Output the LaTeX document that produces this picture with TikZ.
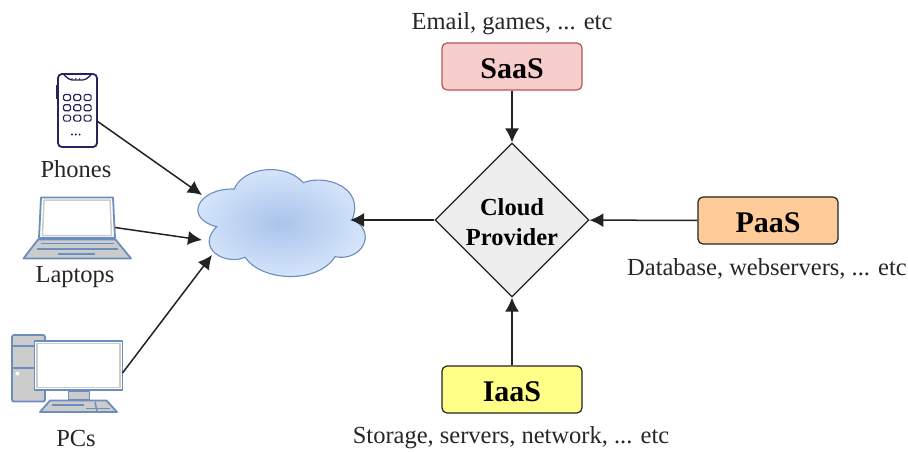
\documentclass[tikz,border=0pt]{standalone}
\usepackage{fontspec}
\setmainfont{Liberation Serif}
\usetikzlibrary{arrows.meta,shapes.geometric}
\definecolor{icoblue}{HTML}{6C8EBF}
\definecolor{icogray}{HTML}{CCCCCC}
\definecolor{phonecol}{HTML}{2E1F5E}
\definecolor{linecol}{HTML}{222222}
\definecolor{saasfill}{HTML}{F8CECC}
\definecolor{saasline}{HTML}{B85450}
\definecolor{paasfill}{HTML}{FFCC99}
\definecolor{iaasfill}{HTML}{FFFF88}
\definecolor{cloudin}{HTML}{A9C4EB}
\definecolor{cloudout}{HTML}{DAE8FC}
\tikzset{
  label/.style={font=\fontsize{24.5}{26}\selectfont,text=black!85,inner sep=0pt},
  service/.style={draw,rounded corners=5pt,line width=1.2pt,minimum width=140pt,minimum height=47pt,
    inner sep=0pt,text height=24pt,text depth=0pt,font=\fontsize{30}{32}\selectfont\bfseries},
  conn/.style={draw=linecol,line width=1.5pt,-{Latex[length=14pt,width=14pt]}},
  icon/.style={draw=icoblue,line width=1.8pt,fill=icogray,line join=round},
  phoneline/.style={draw=phonecol,line width=1.3pt}
}
\begin{document}
\begin{tikzpicture}[x=1pt,y=-1pt]
\useasboundingbox (0,0) rectangle (908,451);
% services
\node[service,draw=saasline,fill=saasfill] (saas) at (512,66.5) {SaaS};
\node[service,draw=linecol,fill=paasfill] (paas) at (768,220.5) {PaaS};
\node[service,draw=linecol,fill=iaasfill] (iaas) at (512,389.5) {IaaS};
\node[label] (saastxt) at (512,24) {Email, games, ... etc};
\node[label] (paastxt) at (767,269) {Database, webservers, ... etc};
\node[label] (iaastxt) at (511,438) {Storage, servers, network, ... etc};
\node[diamond,draw=linecol,fill=black!7,line width=1.2pt,minimum width=154pt,minimum height=154pt,
  inner sep=0pt,align=center,font=\fontsize{24.5}{30}\selectfont\bfseries] (provider) at (512,220) {\rule{0pt}{21pt}Cloud\\Provider};
% cloud
\path[shade,inner color=cloudin,outer color=cloudout,draw=icoblue,line width=1.1pt]
  (234.3,189) .. controls (243,167) and (285,162) .. (303.3,182.7)
  .. controls (325,174) and (365,187) .. (352.3,219.3)
  .. controls (378,232) and (362,262) .. (335,256.7)
  .. controls (318,284) and (262,282) .. (245,257.3)
  .. controls (225,266) and (195,248) .. (216.7,226.7)
  .. controls (183,218) and (198,188) .. (234.3,189) -- cycle;
\coordinate (cloudoutpt) at (350,220);
\coordinate (cloudina) at (202,195);
\coordinate (cloudinb) at (202,240);
\coordinate (cloudinc) at (212,255);
% phone
\draw[phoneline,line width=1.8pt,rounded corners=4pt] (58,74) rectangle (97,147);
\draw[phoneline,rounded corners=2pt] (64,75) -- (70,80) -- (85,80) -- (91,75);
\draw[phoneline,line width=1.8pt] (57,85) -- (57,99);
\foreach \i in {0,1,2} {
  \foreach \j in {0,1,2} {
    \draw[draw=phonecol,line width=1.2pt,rounded corners=1.5pt] (63.5+10.3*\i,94.5+10.3*\j) rectangle +(7,6);
  }
  \fill[phonecol] (72+3.8*\i,134.5) circle (1.1);
  \fill[phonecol] (72+3.8*\i,79) circle (.9);
}
\node[label] (phonetxt) at (76,169) {Phones};
\coordinate (phoneout) at (97,121);
% laptop
\draw[icon,fill=white] (41,197.5) -- (113,197.5) -- (115,238) -- (39,238) -- cycle;
\draw[icogray,line width=1.5pt] (44,200) -- (110,200) -- (111.5,235.5) -- (42.5,235.5) -- cycle;
\draw[icon] (38,239.5) -- (115.5,239.5) -- (131,258.5) -- (23.5,258.5) -- cycle;
\draw[draw=icoblue,line width=1.5pt] (41,243.5) -- (114,243.5);
\draw[draw=icoblue,line width=1.5pt] (37,249) -- (118,249);
\draw[draw=icoblue,line width=1.5pt] (58,254) -- (95,254);
\node[label] (laptoptxt) at (75,277) {Laptops};
\coordinate (laptopout) at (115,227.5);
% pc
\draw[icon,rounded corners=2pt] (12,335) rectangle (45,401.5);
\draw[draw=icoblue,line width=1.5pt] (12,346) -- (35,346);
\draw[draw=icoblue,line width=1.5pt] (12,368) -- (35,368);
\fill[white] (17.5,373.5) circle (2);
\draw[icon,fill=white] (34.5,341) rectangle (122.5,390);
\draw[icogray,line width=1.5pt] (37,343.5) rectangle (120,387.5);
\draw[icon,line width=.8pt] (68,391) rectangle (89,399.5);
\draw[icon] (50,400.5) -- (106.5,400.5) -- (117,412) -- (40,412) -- cycle;
\draw[draw=icoblue,line width=1.5pt] (52,405) -- (84,405);
\draw[draw=icoblue,line width=1.5pt] (86,408.5) -- (110,408.5);
\draw[draw=icoblue,line width=1.5pt] (95,402) -- (97,411);
\node[label] (pctxt) at (76,438) {PCs};
\coordinate (pcout) at (122.5,373);
% connectors
\draw[conn] (phoneout) -- (cloudina);
\draw[conn] (laptopout) -- (cloudinb);
\draw[conn] (pcout) -- (cloudinc);
\draw[conn] (provider) -- (cloudoutpt);
\draw[conn] (saas) -- (provider);
\draw[conn] (paas) -- (provider);
\draw[conn] (iaas) -- (provider);
\end{tikzpicture}
\end{document}
